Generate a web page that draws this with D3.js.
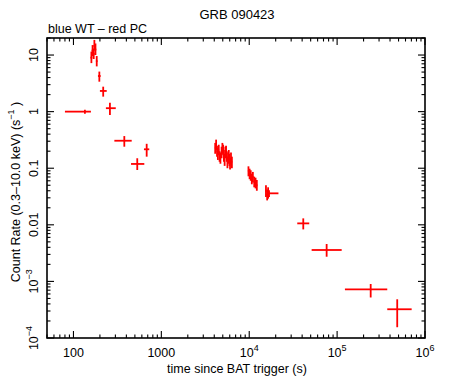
<!DOCTYPE html>
<html><head><meta charset="utf-8">
<script src="https://cdn.jsdelivr.net/npm/d3@7"></script>
<style>body{margin:0;background:#fff}text{font-family:"Liberation Sans",Arial,sans-serif;fill:#000}</style>
</head><body><svg id="c" width="474" height="379"></svg>
<script>
// PC-mode points: time (s), time lo, time hi, rate, rate lo, rate hi
const pcTime  = [160,165,170,173,178,184, 197,218,260, 135, 379,532,681,
  4100,4200,4300,4400,4500,4600,4700,4850,4950,5050,5150,5250,5350,5450,5550,5650,5750,5850,5950,6050,6200,6350,
  9800,10100,10400,10700,11000,11400,11800,12200,
  15500,16000,16400,16800, 41200,76000,241000,483000];
const pcTLo   = [156,161,166,169,174,180, 190,200,234, 80, 292,452,634,
  4060,4150,4250,4350,4450,4550,4650,4800,4900,5000,5100,5200,5300,5400,5500,5600,5700,5800,5900,6000,6130,6280,
  9650,9950,10250,10550,10850,11200,11600,12000,
  15200,15700,16100,16000, 35200,51300,122700,372000];
const pcTHi   = [164,169,174,177,182,188, 204,239,303, 158, 460,640,729,
  4150,4250,4350,4450,4550,4650,4750,4900,5000,5100,5200,5300,5400,5500,5600,5700,5800,5900,6000,6130,6280,6420,
  9950,10250,10550,10850,11200,11600,12000,12400,
  15700,16100,16600,21500, 48200,112700,372000,705000];
const pcRate  = [9.0,12.0,10.5,14.5,12.5,7.8, 4.26,2.32,1.15, 1.0, 0.306,0.119,0.216,
  0.23,0.26,0.20,0.18,0.21,0.16,0.15,0.19,0.23,0.21,0.17,0.14,0.19,0.20,0.16,0.13,0.15,0.17,0.14,0.12,0.15,0.13,
  0.090,0.080,0.075,0.065,0.070,0.058,0.055,0.050,
  0.040,0.034,0.037,0.036, 0.0106,0.00359,0.000726,0.000322];
const pcRLo   = [7.2,9.5,8.5,12,10,6.3, 3.38,1.84,0.87, 0.92, 0.24,0.093,0.16,
  0.18,0.21,0.16,0.14,0.17,0.13,0.12,0.15,0.18,0.17,0.13,0.11,0.15,0.16,0.13,0.10,0.12,0.13,0.11,0.095,0.12,0.10,
  0.072,0.064,0.060,0.052,0.056,0.046,0.044,0.040,
  0.031,0.027,0.029,0.031, 0.0083,0.00273,0.00052,0.000155];
const pcRHi   = [11.5,15,13,18.5,16,9.6, 5.1,2.76,1.44, 1.08, 0.37,0.15,0.27,
  0.28,0.32,0.25,0.23,0.26,0.20,0.19,0.24,0.28,0.26,0.21,0.18,0.24,0.25,0.20,0.16,0.19,0.21,0.18,0.15,0.19,0.16,
  0.108,0.098,0.092,0.080,0.086,0.071,0.068,0.062,
  0.050,0.042,0.046,0.041, 0.013,0.00458,0.00090,0.000483];

const xMajor = [100,1000,1e4,1e5,1e6];
const xLabels = [["100",""],["1000",""],["10","4"],["10","5"],["10","6"]];
const yMajor = [10,1,0.1,0.01,1e-3,1e-4];
const yLabels = [["10",""],["1",""],["0.1",""],["0.01",""],["10","−3"],["10","−4"]];

const L=47,R=425,T=38,B=338;
const x=d3.scaleLog().domain([50,1e6]).range([L,R]);
const y=d3.scaleLog().domain([1e-4,20]).range([B,T]);
const svg=d3.select("#c");

// error bars
const g=svg.append("g").attr("stroke","#ff0000").attr("stroke-width",1.8);
pcTime.forEach((t,i)=>{
  g.append("line").attr("x1",x(pcTLo[i])).attr("x2",x(pcTHi[i])).attr("y1",y(pcRate[i])).attr("y2",y(pcRate[i]));
  g.append("line").attr("x1",x(t)).attr("x2",x(t)).attr("y1",y(pcRLo[i])).attr("y2",y(Math.min(pcRHi[i],20)));
});

// frame
svg.append("rect").attr("x",L).attr("y",T).attr("width",R-L).attr("height",B-T)
  .attr("fill","none").attr("stroke","#000").attr("stroke-width",1.6);

const ax=svg.append("g").attr("stroke","#000").attr("stroke-width",1.1);
// x ticks
for(let e=1;e<=6;e++){for(let m=1;m<=9;m++){const v=m*Math.pow(10,e);if(v<50||v>1e6)continue;
  const len=m===1?7:3.5;const px=x(v);
  ax.append("line").attr("x1",px).attr("x2",px).attr("y1",B).attr("y2",B-len);
  ax.append("line").attr("x1",px).attr("x2",px).attr("y1",T).attr("y2",T+len);}}
// y ticks
for(let e=-4;e<=1;e++){for(let m=1;m<=9;m++){const v=m*Math.pow(10,e);if(v<1e-4||v>20)continue;
  const len=m===1?7:3.5;const py=y(v);
  ax.append("line").attr("y1",py).attr("y2",py).attr("x1",L).attr("x2",L+len);
  ax.append("line").attr("y1",py).attr("y2",py).attr("x1",R).attr("x2",R-len);}}

// x labels
xMajor.forEach((v,i)=>{
  const t=svg.append("text").attr("x",x(v)).attr("y",357).attr("text-anchor","middle").attr("font-size",12.5);
  t.append("tspan").text(xLabels[i][0]);
  if(xLabels[i][1]) t.append("tspan").attr("dy",-6).attr("font-size",9).text(xLabels[i][1]);
});
// y labels (rotated)
yMajor.forEach((v,i)=>{
  const t=svg.append("text").attr("transform",`translate(38,${y(v)}) rotate(-90)`).attr("text-anchor","middle").attr("font-size",12.5);
  t.append("tspan").text(yLabels[i][0]);
  if(yLabels[i][1]) t.append("tspan").attr("dy",-6).attr("font-size",9).text(yLabels[i][1]);
});

svg.append("text").attr("x",237).attr("y",19).attr("text-anchor","middle").attr("font-size",13).text("GRB 090423");
svg.append("text").attr("x",48).attr("y",33).attr("font-size",12.5).text("blue WT – red PC");
svg.append("text").attr("x",237).attr("y",373).attr("text-anchor","middle").attr("font-size",12.5).text("time since BAT trigger (s)");
const yt=svg.append("text").attr("transform","translate(20,192) rotate(-90)").attr("text-anchor","middle").attr("font-size",12.5);
yt.append("tspan").text("Count Rate (0.3–10.0 keV) (s");
yt.append("tspan").attr("dy",-6).attr("font-size",9).text("−1");
yt.append("tspan").attr("dy",6).text(" )");
</script></body></html>
